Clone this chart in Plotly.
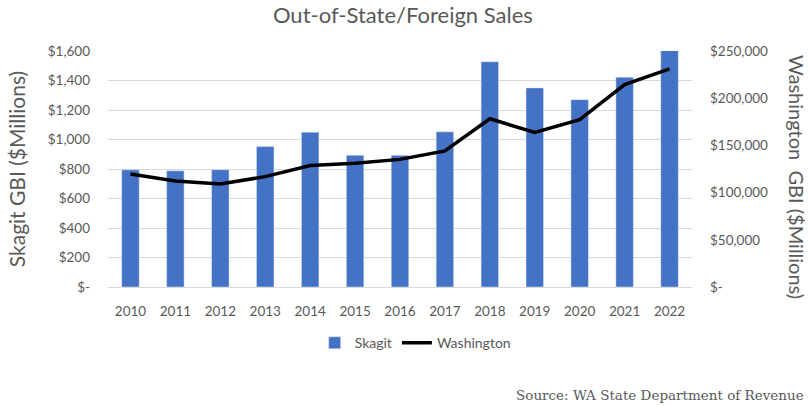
import plotly.graph_objects as go

years = ["2010", "2011", "2012", "2013", "2014", "2015", "2016",
         "2017", "2018", "2019", "2020", "2021", "2022"]

# Skagit GBI, $ millions (left axis)
skagit = [795, 788, 795, 952, 1050, 893, 893, 1052, 1527, 1350, 1270, 1422, 1612]

# Washington GBI, $ millions (right axis)
washington = [119800, 112300, 109200, 116900, 128600, 131100, 135200,
              144200, 178200, 163700, 177200, 214400, 231100]

left_ticks = [0, 200, 400, 600, 800, 1000, 1200, 1400, 1600]
left_labels = ["$-", "$200", "$400", "$600", "$800", "$1,000", "$1,200", "$1,400", "$1,600"]
right_ticks = [0, 50000, 100000, 150000, 200000, 250000]
right_labels = ["$-", "$50,000", "$100,000", "$150,000", "$200,000", "$250,000"]

FONT = "Lato, Open Sans, sans-serif"
GREY = "#595959"

fig = go.Figure()

fig.add_trace(
    go.Bar(
        x=years,
        y=skagit,
        name="Skagit",
        marker=dict(color="#4472C4"),
        yaxis="y",
    )
)

fig.add_trace(
    go.Scatter(
        x=years,
        y=washington,
        name="Washington",
        mode="lines",
        line=dict(color="black", width=3.5),
        yaxis="y2",
    )
)

fig.update_layout(
    width=809,
    height=406,
    margin=dict(l=108, r=117, t=51, b=119),
    plot_bgcolor="white",
    paper_bgcolor="white",
    font=dict(family=FONT, color=GREY, size=13),
    title=dict(
        text="Out-of-State/Foreign Sales",
        x=0.498,
        xanchor="center",
        y=0.963,
        yanchor="middle",
        font=dict(size=22, color=GREY, family=FONT),
    ),
    bargap=0.61,
    xaxis=dict(
        showgrid=False,
        showline=False,
        ticks="",
        ticklabelstandoff=14,
        tickfont=dict(size=13.5, color=GREY),
    ),
    yaxis=dict(
        range=[0, 1600],
        tickvals=left_ticks,
        ticktext=left_labels,
        showgrid=True,
        gridcolor="#d9d9d9",
        gridwidth=1,
        zeroline=True,
        zerolinecolor="#d9d9d9",
        zerolinewidth=1,
        ticks="",
        ticklabelstandoff=17,
        tickfont=dict(size=13.5, color=GREY),
        title=dict(text="Skagit GBI ($Millions)", font=dict(size=21, color=GREY), standoff=16),
    ),
    yaxis2=dict(
        range=[0, 250000],
        tickvals=right_ticks,
        ticktext=right_labels,
        overlaying="y",
        side="right",
        showgrid=False,
        zeroline=False,
        ticks="",
        ticklabelstandoff=17,
        tickfont=dict(size=13.5, color=GREY),
    ),
    legend=dict(
        orientation="h",
        x=0.526,
        xanchor="center",
        y=-0.238,
        yanchor="middle",
        font=dict(size=14, color=GREY),
        traceorder="normal",
    ),
    annotations=[
        dict(
            text="Washington\u00a0 GBI ($Millions)",
            xref="paper",
            yref="paper",
            x=1.18,
            y=0.466,
            xanchor="center",
            yanchor="middle",
            textangle=90,
            showarrow=False,
            font=dict(size=20, color=GREY, family=FONT),
        ),
        dict(
            text="Source: WA State Department of Revenue",
            xref="paper",
            yref="paper",
            x=1.195,
            y=-0.458,
            xanchor="right",
            yanchor="middle",
            showarrow=False,
            font=dict(size=13.5, color=GREY, family="DejaVu Serif, Liberation Serif, serif"),
        ),
    ],
)

fig.write_html(
    "out.html",
    config={"displayModeBar": False},
    post_script="document.body.style.margin='0';",
)
